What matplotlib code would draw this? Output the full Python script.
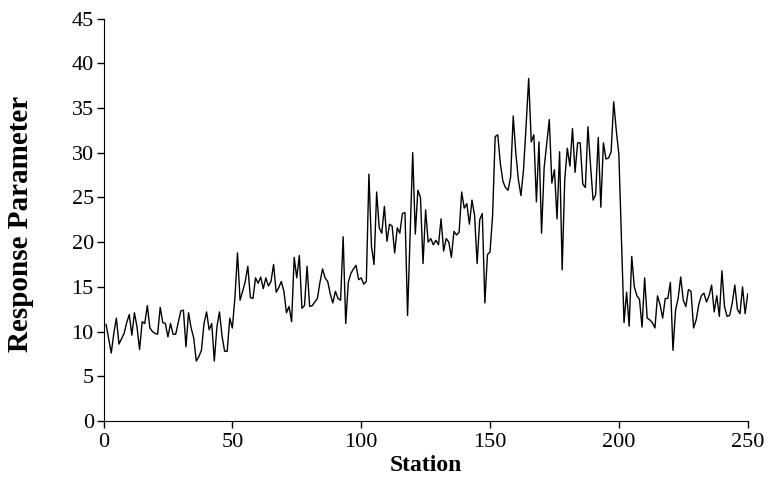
import numpy as np
import matplotlib.pyplot as plt

plt.rcParams['font.family'] = ['Liberation Serif', 'DejaVu Serif']

station = np.arange(1, 251)

response = [
    10.8, 9.2, 7.6, 9.8, 11.5, 8.6, 9.2, 9.8, 11.0, 11.9,
    9.6, 12.1, 10.5, 8.0, 11.1, 10.9, 12.9, 10.4, 10.0, 9.8,
    9.7, 12.7, 11.0, 10.9, 9.4, 10.9, 9.7, 9.7, 11.0, 12.3,
    12.4, 8.3, 12.1, 10.4, 9.3, 6.7, 7.2, 7.9, 10.9, 12.2,
    10.2, 10.9, 6.7, 10.5, 12.2, 9.5, 7.8, 7.8, 11.5, 10.4,
    13.8, 18.8, 13.5, 14.5, 15.6, 17.3, 13.8, 13.7, 16.0, 15.4,
    16.1, 14.8, 16.0, 15.1, 15.6, 17.5, 14.4, 14.9, 15.6, 14.5,
    12.1, 12.8, 11.1, 18.3, 16.0, 18.5, 12.6, 12.9, 17.3, 12.8,
    12.9, 13.3, 13.7, 15.5, 17.0, 16.0, 15.6, 14.2, 13.2, 14.5,
    13.7, 13.5, 20.6, 10.9, 15.5, 16.5, 17.0, 17.4, 15.8, 16.0,
    15.3, 15.6, 27.6, 19.5, 17.5, 25.6, 21.6, 21.0, 24.0, 20.1,
    22.0, 21.8, 18.8, 21.6, 21.0, 23.2, 23.3, 11.8, 21.0, 30.0,
    20.9, 25.8, 25.0, 17.6, 23.6, 20.0, 20.4, 19.7, 20.2, 19.7,
    22.6, 19.0, 20.4, 20.0, 18.3, 21.2, 20.8, 21.1, 25.6, 23.8,
    24.3, 22.0, 24.7, 23.0, 17.6, 22.5, 23.2, 13.2, 18.6, 18.9,
    23.0, 31.8, 32.0, 28.8, 26.8, 26.1, 25.8, 27.3, 34.1, 30.0,
    27.0, 25.2, 28.1, 33.0, 38.3, 31.2, 32.0, 24.5, 31.2, 21.0,
    28.3, 31.0, 33.7, 26.6, 28.1, 22.6, 30.1, 16.9, 27.0, 30.5,
    28.5, 32.7, 27.8, 31.1, 31.1, 26.5, 26.1, 32.9, 28.6, 24.7,
    25.3, 31.7, 23.9, 31.1, 29.3, 29.4, 30.1, 35.7, 32.5, 29.8,
    20.5, 11.0, 14.4, 10.6, 18.4, 15.0, 14.0, 13.6, 10.5, 16.0,
    11.5, 11.3, 11.0, 10.4, 14.0, 13.0, 11.5, 13.7, 13.7, 15.5,
    7.9, 12.4, 13.7, 16.1, 13.5, 12.8, 14.7, 14.5, 10.4, 11.3,
    13.0, 14.0, 14.3, 13.3, 14.0, 15.2, 12.2, 14.0, 11.7, 16.8,
    12.8, 11.7, 11.8, 13.2, 15.2, 12.5, 12.0, 15.0, 12.0, 14.2,
]

fig = plt.figure(figsize=(7.69, 4.95), dpi=100)
ax = fig.add_axes([0.1346, 0.1495, 0.8377, 0.8131])

ax.plot(station, response, color='black', lw=1.0)

ax.set_xlim(0, 250)
ax.set_ylim(0, 45)
ax.set_xticks(range(0, 251, 50))
ax.set_yticks(range(0, 46, 5))
ax.tick_params(direction='out', length=5, width=1, labelsize=16, colors='black')
ax.tick_params(axis='y', pad=2)
ax.spines['top'].set_visible(False)
ax.spines['right'].set_visible(False)

ax.set_xlabel('Station', fontsize=17, fontweight='bold', labelpad=2)
ax.set_ylabel('Response Parameter', fontsize=21, fontweight='bold')
ax.yaxis.set_label_coords(-0.108, 0.49)

fig.savefig('out.png', dpi=100)
